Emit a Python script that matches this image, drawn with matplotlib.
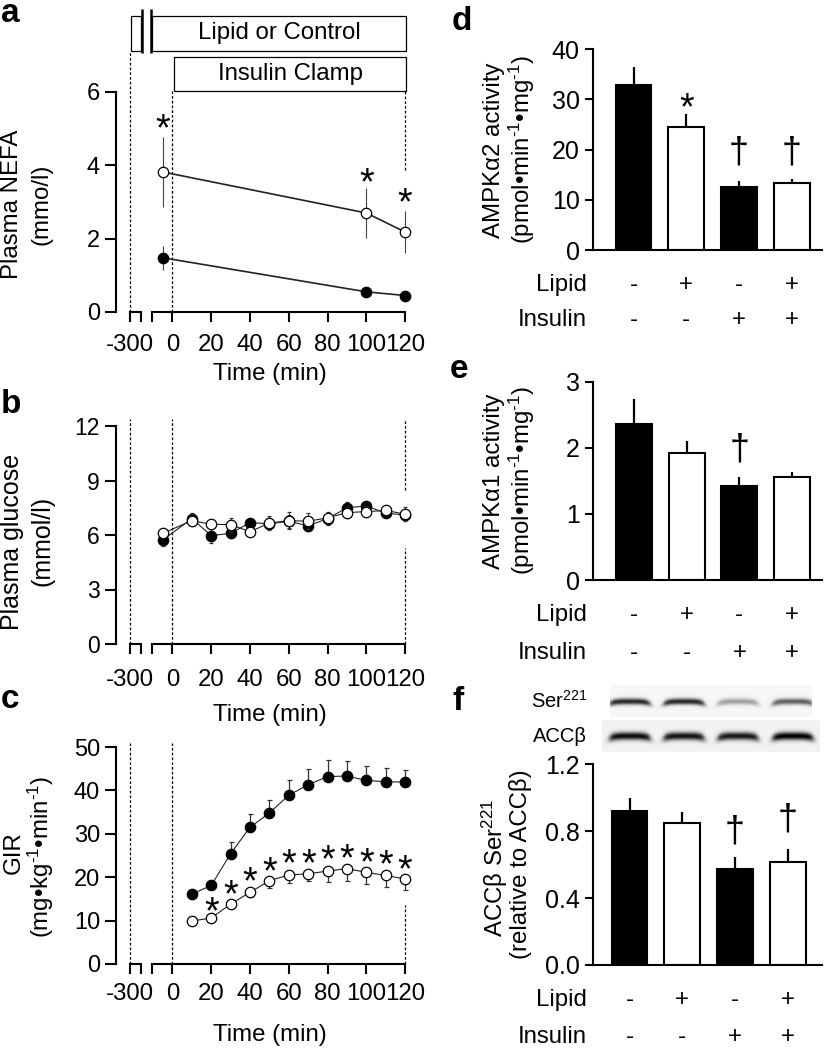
import numpy as np
import matplotlib
matplotlib.use('Agg')
import matplotlib.pyplot as plt
from matplotlib.patches import Rectangle

plt.rcParams['font.family'] = ['Liberation Sans', 'DejaVu Sans']
plt.rcParams['mathtext.fontset'] = 'custom'
plt.rcParams['mathtext.rm'] = 'Liberation Sans'
plt.rcParams['mathtext.it'] = 'Liberation Sans:italic'
plt.rcParams['mathtext.bf'] = 'Liberation Sans:bold'
plt.rcParams['mathtext.default'] = 'regular'

# ---------------- data ----------------
NEFA_TIME = [-5, 100, 120]
NEFA_CONTROL = [1.48, 0.55, 0.45]
NEFA_CONTROL_ERR = [0.33, 0.04, 0.04]
NEFA_LIPID = [3.82, 2.70, 2.18]
NEFA_LIPID_ERR = [0.96, 0.68, 0.58]
NEFA_STAR_Y = [5.26, 3.81, 3.24]

GLU_TIME = [-5, 10, 20, 30, 40, 50, 60, 70, 80, 90, 100, 110, 120]
GLU_CONTROL = [5.72, 6.90, 5.97, 6.09, 6.68, 6.62, 6.75, 6.51, 6.90, 7.50, 7.60, 7.20, 7.10]
GLU_CONTROL_ERR = [0.33, 0.30, 0.40, 0.25, 0.20, 0.30, 0.35, 0.30, 0.35, 0.30, 0.20, 0.20, 0.30]
GLU_LIPID = [6.09, 6.79, 6.59, 6.57, 6.18, 6.66, 6.79, 6.76, 6.94, 7.23, 7.29, 7.35, 7.15]
GLU_LIPID_ERR = [0.15, 0.30, 0.20, 0.35, 0.20, 0.40, 0.48, 0.45, 0.25, 0.30, 0.30, 0.20, 0.40]

GIR_TIME = [10, 20, 30, 40, 50, 60, 70, 80, 90, 100, 110, 120]
GIR_CONTROL = [16.1, 18.1, 25.4, 31.5, 34.8, 38.9, 41.3, 43.2, 43.3, 42.3, 42.0, 41.9]
GIR_CONTROL_ERR = [0.8, 1.0, 2.6, 3.0, 3.0, 3.4, 3.7, 3.8, 3.4, 3.4, 3.2, 2.9]
GIR_LIPID = [9.9, 10.6, 13.8, 16.5, 19.2, 20.5, 20.8, 21.4, 22.0, 21.1, 20.4, 19.6]
GIR_LIPID_ERR = [0.6, 0.6, 0.8, 1.1, 1.6, 1.8, 1.7, 2.4, 2.9, 2.6, 2.6, 2.6]
GIR_STAR_TIME = [20, 30, 40, 50, 60, 70, 80, 90, 100, 110, 120]
GIR_STAR_Y = [14.4, 18.2, 21.3, 23.6, 25.3, 25.5, 26.3, 26.5, 25.7, 25.1, 24.0]

LIPID_SIGNS = ['-', '+', '-', '+']
INSULIN_SIGNS = ['-', '-', '+', '+']
BAR_FILLED = [True, False, True, False]

AMPK_A2 = [32.9, 24.6, 12.6, 13.4]
AMPK_A2_ERR = [3.6, 2.5, 1.1, 0.7]
AMPK_A2_MARK = ['', '*', '\u2020', '\u2020']
AMPK_A2_MARK_Y = [0, 30.4, 19.3, 19.3]

AMPK_A1 = [2.36, 1.92, 1.42, 1.56]
AMPK_A1_ERR = [0.38, 0.18, 0.14, 0.07]
AMPK_A1_MARK = ['', '', '\u2020', '']
AMPK_A1_MARK_Y = [0, 0, 1.97, 0]

ACC_SER221 = [0.923, 0.851, 0.572, 0.614]
ACC_SER221_ERR = [0.074, 0.062, 0.076, 0.078]
ACC_MARK = ['', '', '\u2020', '\u2020']
ACC_MARK_Y = [0, 0, 0.797, 0.867]

BLOT_SER221 = [0.85, 0.85, 0.35, 0.62]
BLOT_ACCB = [0.95, 0.92, 0.90, 1.00]

# ---------------- layout ----------------
W, H, DPI = 824, 1050, 100
FS = 17.3
fig = plt.figure(figsize=(W / DPI, H / DPI), dpi=DPI)


def add_ax(x0, yt, x1, yb):
    return fig.add_axes([x0 / W, 1 - yb / H, (x1 - x0) / W, (yb - yt) / H])


def ftext(px, py, s, **kw):
    return fig.text(px / W, 1 - py / H, s, **kw)


def mark(ax, x, y, s):
    fs = 27 if s == '*' else 26
    off = -0.575 * fs if s == '*' else -0.27 * fs
    ax.annotate(s, (x, y), xytext=(0, off), textcoords='offset points',
                ha='center', va='baseline', fontsize=fs, annotation_clip=False)


PX_PER_MIN = 1.943
ZERO_PX = 172.5
LEFT_PX, RIGHT_PX = 116, 406
BREAK_POS = -22.0     # display position of the -300 min tick (broken axis)
SEG1_END = -16.0
SEG2_START = -10.4
TIME_TICKS = [0, 20, 40, 60, 80, 100, 120]


def time_axes(yt, yb, ymax, yticks, xpad, ysize, xlab_py):
    ax = add_ax(LEFT_PX, yt, RIGHT_PX, yb)
    ax.set_xlim((LEFT_PX - ZERO_PX) / PX_PER_MIN, (RIGHT_PX + 0.5 - ZERO_PX) / PX_PER_MIN)
    ax.set_ylim(0, ymax)
    for s in ['top', 'right', 'bottom']:
        ax.spines[s].set_visible(False)
    ax.spines['left'].set_linewidth(1.5)
    ax.set_yticks(yticks)
    ax.set_xticks([BREAK_POS, SEG1_END, SEG2_START] + TIME_TICKS,
                  ['-300', '', ''] + [str(t) for t in TIME_TICKS])
    ax.tick_params(axis='x', length=7, width=1.5, pad=xpad, labelsize=FS)
    ax.tick_params(axis='y', length=8, width=1.5, pad=3.5, labelsize=ysize)
    for a, b in [(BREAK_POS, SEG1_END), (SEG2_START, TIME_TICKS[-1])]:
        ax.plot([a, b], [0, 0], color='k', lw=1.5, clip_on=False,
                solid_capstyle='projecting', zorder=5)
    ax.set_xlabel('Time (min)', fontsize=FS)
    ax.xaxis.set_label_coords((270 - LEFT_PX) / (RIGHT_PX - LEFT_PX), -(xlab_py - yb) / (yb - yt))
    ax.xaxis.label.set_va('center')
    return ax


def vdash(ax, x, y0, y1):
    ax.plot([x, x], [y0, y1], color='k', lw=0.9, ls=(0, (2.2, 1.6)), clip_on=False, zorder=1)


def series(ax, t, y, err, filled, lw, ecolor, elw, capsize, ms=7.5):
    c = ax.errorbar(t, y, yerr=err, fmt='o-', color='#222', lw=lw,
                    mfc='k' if filled else 'w', mec='k', ms=ms, mew=0.9,
                    ecolor=ecolor, elinewidth=elw, capsize=capsize, capthick=elw,
                    zorder=3 if filled else 4)
    for ch in c.get_children():
        ch.set_clip_on(False)
    return c


# ---------------- panel a ----------------
A_YT, A_YB = 92, 312
axa = time_axes(A_YT, A_YB, 6, [0, 2, 4, 6], 9, 17, 374)
yv = lambda py: (A_YB - py) / (A_YB - A_YT) * 6
series(axa, NEFA_TIME, NEFA_CONTROL, NEFA_CONTROL_ERR, True, 1.2, '#444', 0.8, 0)
series(axa, NEFA_TIME, NEFA_LIPID, NEFA_LIPID_ERR, False, 1.2, '#444', 0.8, 0)
for t, y in zip(NEFA_TIME, NEFA_STAR_Y):
    mark(axa, t, y, '*')
# protocol boxes
xv = lambda px: (px - ZERO_PX) / PX_PER_MIN
for (x0, x1, y0, y1) in [(131, 140.7, 50.7, 16), (152.3, 406.7, 50.7, 16), (174.3, 406.7, 90.7, 56.7)]:
    axa.add_patch(Rectangle((xv(x0), yv(y0)), xv(x1) - xv(x0), yv(y1) - yv(y0),
                            fill=False, ec='k', lw=0.9, clip_on=False))
for px in [142.5, 151.2]:
    axa.plot([xv(px), xv(px)], [yv(53), yv(9)], color='k', lw=1.8, clip_on=False,
             solid_capstyle='butt')
axa.text((xv(152.3) + xv(406.7)) / 2, (yv(50.7) + yv(16)) / 2, 'Lipid or Control',
         ha='center', va='center', fontsize=FS)
axa.text((xv(174.3) + xv(406.7)) / 2, (yv(90.7) + yv(56.7)) / 2, 'Insulin Clamp',
         ha='center', va='center', fontsize=FS)
vdash(axa, BREAK_POS, 0, yv(50.7))
vdash(axa, 0, 0, yv(90.7))
vdash(axa, 120, yv(170), yv(90.7))

# ---------------- panel b ----------------
axb = time_axes(426, 644, 12, [0, 3, 6, 9, 12], 11, 16.5, 715)
vdash(axb, BREAK_POS, 0, 12.4)
vdash(axb, 0, 0, 12.4)
vdash(axb, 120, 8.5, 12.33)
vdash(axb, 120, 0, 5.3)
series(axb, GLU_TIME, GLU_CONTROL, GLU_CONTROL_ERR, True, 0.8, '#333', 0.7, 1.5)
series(axb, GLU_TIME, GLU_LIPID, GLU_LIPID_ERR, False, 0.8, '#333', 0.7, 1.5)

# ---------------- panel c ----------------
axc = time_axes(747, 964, 50, [0, 10, 20, 30, 40, 50], 7, 17, 1035)
vdash(axc, BREAK_POS, 0, 51)
vdash(axc, 0, 0, 51)
vdash(axc, 120, 0, 13.6)
zeros = [0] * len(GIR_TIME)
series(axc, GIR_TIME, GIR_CONTROL, [zeros, GIR_CONTROL_ERR], True, 0.8, '#333', 0.9, 1.8)
series(axc, GIR_TIME, GIR_LIPID, [GIR_LIPID_ERR, zeros], False, 0.8, '#333', 0.9, 1.8)
for t, y in zip(GIR_STAR_TIME, GIR_STAR_Y):
    mark(axc, t, y, '*')

# ---------------- bar panels ----------------
BAR_SPACING = 52.8


def bar_panel(yt, yb, first_px, vals, errs, marks, mark_y, ymax, yticks, labels,
              lipid_py, insulin_py):
    ax = add_ax(593, yt, 822, yb)
    ax.set_xlim((593 - first_px) / BAR_SPACING, (822 - first_px) / BAR_SPACING)
    ax.set_ylim(0, ymax)
    x = np.arange(len(vals))
    ax.errorbar(x, vals, yerr=[[0] * len(vals), errs], fmt='none', ecolor='k',
                elinewidth=1.6, capsize=0, zorder=1)
    ax.bar(x, vals, width=0.68, color=['k' if f else 'w' for f in BAR_FILLED],
           edgecolor='k', lw=1.5, zorder=2)
    for s in ['top', 'right']:
        ax.spines[s].set_visible(False)
    for s in ['left', 'bottom']:
        ax.spines[s].set_linewidth(1.5)
    ax.set_xticks([])
    ax.set_yticks(yticks, labels)
    ax.tick_params(axis='y', length=5.5, width=1.5, pad=4, labelsize=18)
    for xi, m, my in zip(x, marks, mark_y):
        if m:
            mark(ax, xi, my, m)
    tr = ax.get_xaxis_transform()
    lab_x = (587 - first_px) / BAR_SPACING
    for name, signs, py in [('Lipid', LIPID_SIGNS, lipid_py), ('Insulin', INSULIN_SIGNS, insulin_py)]:
        yf = (yb - py) / (yb - yt)
        ax.text(lab_x, yf, name, transform=tr, ha='right', va='center', fontsize=FS)
        for xi, s in zip(x, signs):
            ax.text(xi, yf, s, transform=tr, ha='center', va='center', fontsize=FS)
    return ax


axd = bar_panel(49.3, 250, 633.5, AMPK_A2, AMPK_A2_ERR, AMPK_A2_MARK, AMPK_A2_MARK_Y,
                40, [0, 10, 20, 30, 40], ['0', '10', '20', '30', '40'], 285, 320)
axe = bar_panel(381.7, 580, 633.8, AMPK_A1, AMPK_A1_ERR, AMPK_A1_MARK, AMPK_A1_MARK_Y,
                3, [0, 1, 2, 3], ['0', '1', '2', '3'], 615, 653)
axf = bar_panel(764.3, 965, 629.5, ACC_SER221, ACC_SER221_ERR, ACC_MARK, ACC_MARK_Y,
                1.2, [0, 0.4, 0.8, 1.2], ['0.0', '0.4', '0.8', '1.2'], 1000, 1037)

# ---------------- western blot ----------------
BX0, BX1, BY0, BY1 = 602, 820, 682, 752
axw = add_ax(BX0, BY0, BX1, BY1)
xx, yy = np.meshgrid(np.arange(BX0, BX1) + 0.5, np.arange(BY0, BY1) + 0.5)
img = np.ones_like(xx)
strip1 = (xx >= 610) & (xx <= 812) & (yy >= 685) & (yy <= 717)
strip2 = (xx >= 602) & (xx <= 820) & (yy >= 720) & (yy <= 752)
img[strip1] = 0.965
img[strip2] = 0.95
lane_px = [630, 684, 738, 793]
for intens, yc, sig, mask in [(BLOT_SER221, 701.5, 2.2, strip1), (BLOT_ACCB, 736, 2.8, strip2)]:
    dark = np.zeros_like(xx)
    for xc, it in zip(lane_px, intens):
        u = (xx - xc) / 20.0
        hprof = 1.0 / (1.0 + np.exp((np.abs(xx - xc) - 20.0) / 1.6))
        ycurve = yc + 2.2 * u ** 4
        vprof = np.exp(-((yy - ycurve) ** 2) / (2 * sig ** 2))
        dark = np.maximum(dark, it * hprof * vprof)
    img = np.where(mask, img - 0.95 * dark, img)
img = np.clip(img, 0, 1)
axw.imshow(img, cmap='gray', vmin=0, vmax=1, extent=(BX0, BX1, BY1, BY0),
           interpolation='bilinear', aspect='auto')
axw.set_xlim(BX0, BX1)
axw.set_ylim(BY1, BY0)
axw.axis('off')
ftext(587, 701, 'Ser$^{221}$', ha='right', va='center', fontsize=14.5)
ftext(587, 737, 'ACC\u03b2', ha='right', va='center', fontsize=14.5)

# ---------------- axis titles ----------------
SUP = '$^{\\text{-}1}$'
ylabels = [
    ('Plasma NEFA', 12, 204, FS), ('(mmo/l)', 42, 204, FS),
    ('Plasma glucose', 12, 542, 18), ('(mmol/l)', 42, 541, 18),
    ('GIR', 14, 853, FS), ('(mg\u2022kg' + SUP + '\u2022min' + SUP + ')', 41, 857, FS),
    ('AMPK\u03b12 activity', 494, 150, FS), ('(pmol\u2022min' + SUP + '\u2022mg' + SUP + ')', 522, 150, FS),
    ('AMPK\u03b11 activity', 494, 481, FS), ('(pmol\u2022min' + SUP + '\u2022mg' + SUP + ')', 522, 481, FS),
    ('ACC\u03b2 Ser$^{221}$', 495, 868, FS), ('(relative to ACC\u03b2)', 521, 864, FS),
]
for s, px, py, fs in ylabels:
    ftext(px, py, s, rotation=90, ha='center', va='center', fontsize=fs)

for s, px, py in [('a', 1, 22), ('b', 1, 413), ('c', 1, 708), ('d', 452, 30), ('e', 450, 378), ('f', 452, 710)]:
    ftext(px, py, s, ha='left', va='baseline', fontsize=24, fontweight='bold')

fig.savefig('out.png', dpi=DPI)
